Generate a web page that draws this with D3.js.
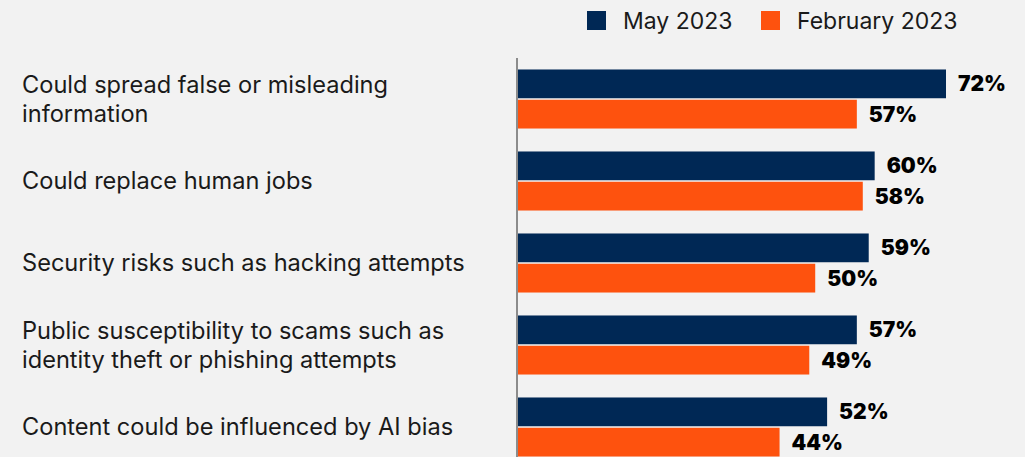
<!DOCTYPE html>
<html>
<head>
<meta charset="utf-8">
<script src="https://cdn.jsdelivr.net/npm/d3@7"></script>
<style>
  body { margin: 0; background: #f2f2f2; }
  svg { display: block; font-family: Inter, "Noto Sans", sans-serif; }
</style>
</head>
<body>
<script>
// chart values
var categories = [
  "Could spread false or misleading\ninformation",
  "Could replace human jobs",
  "Security risks such as hacking attempts",
  "Public susceptibility to scams such as\nidentity theft or phishing attempts",
  "Content could be influenced by AI bias"
];
var may2023 = [ 72, 60, 59, 57, 52 ];
var feb2023 = [ 57, 58, 50, 49, 44 ];
var seriesNames = [ "May 2023", "February 2023" ];
var seriesColors = [ "#002855", "#fe520e" ];

var width = 1025, height = 457;

var svg = d3.select( "body" )
            .append( "svg" )
              .attr( "width", width )
              .attr( "height", height );

svg.append( "rect" )
  .attr( "width", width )
  .attr( "height", height )
  .attr( "fill", "#f2f2f2" );

// scales
var x = d3.scaleLinear()
          .domain( [ 0, 72 ] )
          .range( [ 518, 946 ] );

var y = d3.scaleBand()
          .domain( categories )
          .range( [ 58, 468 ] )
          .paddingInner( 0.28 )
          .paddingOuter( 0.14 );

var ySub = d3.scaleBand()
             .domain( seriesNames )
             .range( [ 0, y.bandwidth() ] )
             .paddingInner( 0.05 );

var rows = categories.map( function(c, i){
  return { cat: c, values: [ may2023[i], feb2023[i] ] };
});

// one group per category
var groups = svg.selectAll( "g.row" )
  .data( rows )
  .enter()
  .append( "g" )
    .attr( "class", "row" )
    .attr( "transform", function(d){ return "translate(0," + y(d.cat) + ")"; });

groups.selectAll( "rect" )
  .data( function(d){ return d.values.map( function(v, j){ return { v: v, s: seriesNames[j], c: seriesColors[j] }; }); })
  .enter()
  .append( "rect" )
    .attr( "x", x(0) )
    .attr( "y", function(d){ return ySub(d.s); })
    .attr( "width", function(d){ return x(d.v) - x(0); })
    .attr( "height", ySub.bandwidth() )
    .attr( "fill", function(d){ return d.c; });

// value labels
groups.selectAll( "text.val" )
  .data( function(d){ return d.values.map( function(v, j){ return { v: v, s: seriesNames[j] }; }); })
  .enter()
  .append( "text" )
    .attr( "class", "val" )
    .attr( "x", function(d){ return x(d.v) + 12; })
    .attr( "y", function(d){ return ySub(d.s) + ySub.bandwidth() / 2; })
    .attr( "dy", "0.36em" )
    .attr( "font-size", 21 )
    .attr( "font-weight", 900 )
    .attr( "fill", "#000" )
    .text( function(d){ return d.v + "%"; });

// category labels (may wrap over two lines)
groups.append( "text" )
  .attr( "x", 22 )
  .attr( "font-size", 23.6 )
  .attr( "fill", "#1a1a1a" )
  .each( function(d){
    var lines = d.cat.split( "\n" );
    var mid = y.bandwidth() / 2;
    var lh = 28.5;
    var t = d3.select( this );
    lines.forEach( function(line, k){
      t.append( "tspan" )
        .attr( "x", 22 )
        .attr( "y", mid + ( k - ( lines.length - 1 ) / 2 ) * lh )
        .attr( "dy", "0.36em" )
        .text( line );
    });
  });

// vertical axis line
svg.append( "line" )
  .attr( "x1", 517 ).attr( "x2", 517 )
  .attr( "y1", 58 ).attr( "y2", height )
  .attr( "stroke", "#8c8c8c" )
  .attr( "stroke-width", 2 );

// legend
var legendX = [ 587, 761 ];
var legend = svg.selectAll( "g.legend" )
  .data( seriesNames )
  .enter()
  .append( "g" )
    .attr( "class", "legend" )
    .attr( "transform", function(d, i){ return "translate(" + legendX[i] + ",11)"; });

legend.append( "rect" )
  .attr( "width", 19 )
  .attr( "height", 19 )
  .attr( "fill", function(d, i){ return seriesColors[i]; });

legend.append( "text" )
  .attr( "x", 36 )
  .attr( "y", 9.5 )
  .attr( "dy", "0.36em" )
  .attr( "font-size", 23 )
  .attr( "fill", "#1a1a1a" )
  .text( function(d){ return d; });
</script>
</body>
</html>
